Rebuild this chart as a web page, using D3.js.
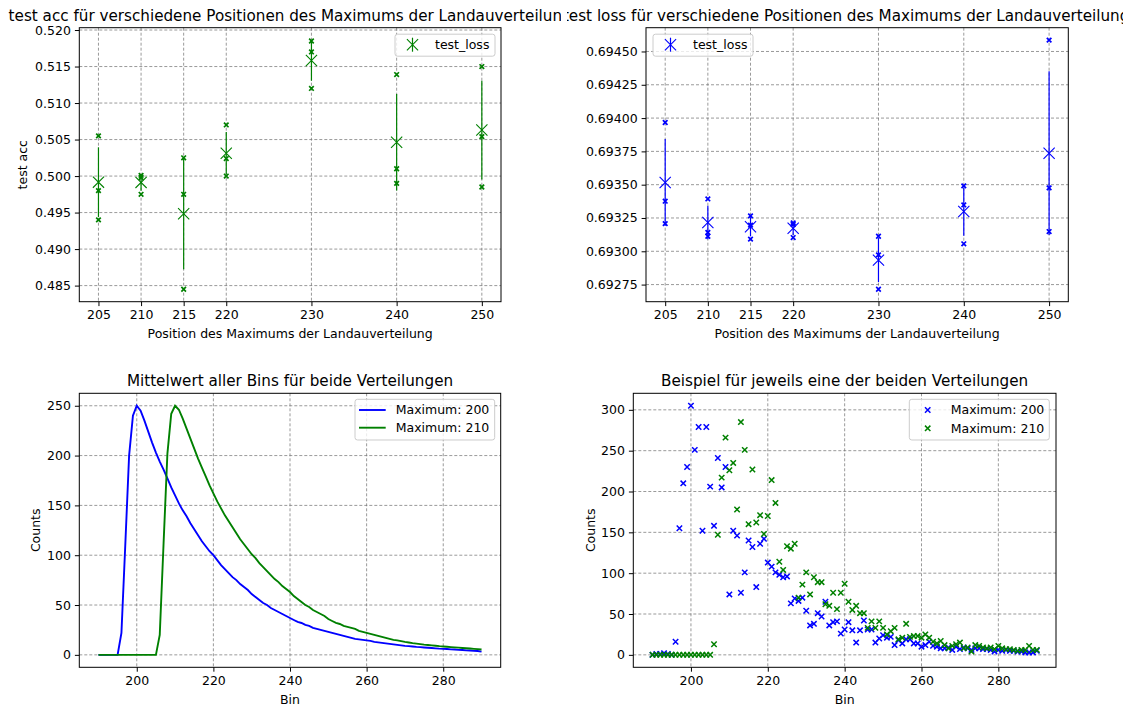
<!DOCTYPE html>
<html lang="de">
<head>
<meta charset="utf-8">
<title>Landauverteilung: test acc / test loss</title>
<script src="https://cdn.jsdelivr.net/npm/d3@7"></script>
<style>
  body { margin: 0; background: #fff; }
  svg { font-family: "DejaVu Sans", sans-serif; }
  .axis line { stroke: black; stroke-width: 1; }
  .axis text { font-family: "DejaVu Sans", sans-serif; font-size: 12.5px; fill: black; }
  .grid line { stroke: #6f6f6f; stroke-width: 0.7; stroke-dasharray: 3,2; }
  .label { font-size: 12.5px; fill: black; }
  .title { font-size: 15.2px; fill: black; }
  .legend text { font-size: 12.5px; fill: black; }
</style>
</head>
<body>
<script>

// ---- data ----
var positions = [205, 210, 215, 220, 230, 240, 250];

// single runs per position (small x markers)
var accRuns = [
  [0.5055, 0.4980, 0.4940],
  [0.5001, 0.4998, 0.4975],
  [0.5025, 0.4975, 0.4845],
  [0.5070, 0.5024, 0.5000],
  [0.5185, 0.5170, 0.5120],
  [0.5139, 0.5010, 0.4990],
  [0.5150, 0.5054, 0.4985]
];
var lossRuns = [
  [0.693967, 0.693376, 0.693208],
  [0.693393, 0.693141, 0.693113],
  [0.693266, 0.693196, 0.693091],
  [0.693213, 0.693201, 0.693103],
  [0.693113, 0.692973, 0.692715],
  [0.693491, 0.693348, 0.693056],
  [0.694585, 0.693476, 0.693148]
];

var accTicks = [0.485, 0.490, 0.495, 0.500, 0.505, 0.510, 0.515, 0.520];
var lossTicks = [0.69275, 0.69300, 0.69325, 0.69350, 0.69375, 0.69400, 0.69425, 0.69450];

// bins 190 .. 290
var bins = d3.range(190, 291);
var binTicks = [200, 220, 240, 260, 280];
var meanTicks = [0, 50, 100, 150, 200, 250];
var sampleTicks = [0, 50, 100, 150, 200, 250, 300];

var meanBlue = [
  0, 0, 0, 0, 0, 0, 22, 110, 200, 240,
  250, 245, 235, 224, 213, 203, 194, 186, 177, 168,
  160, 152, 145, 139, 132, 126, 120, 114, 109, 104,
  100, 95, 90, 86, 82, 78, 75, 71, 68, 65,
  61, 58, 55, 52, 50, 47, 45, 43, 41, 39,
  37, 35, 33, 32, 30, 29, 27, 26, 25, 24,
  23, 22, 21, 20, 19, 18, 17, 16, 15.5, 15,
  14.5, 14, 13, 12.5, 12, 11.5, 11, 10.5, 10, 9.5,
  9, 8.7, 8.4, 8, 7.7, 7.4, 7.1, 6.8, 6.5, 6.2,
  6, 5.8, 5.5, 5.3, 5, 4.8, 4.5, 4.3, 4, 3.8,
  3.2
];
var meanGreen = [
  0, 0, 0, 0, 0, 0, 0, 0, 0, 0,
  0, 0, 0, 0, 0, 0, 20, 112, 202, 242,
  250, 246, 237, 227, 217, 207, 197, 188, 179, 170,
  162, 154, 147, 140, 134, 128, 122, 116, 111, 106,
  101, 97, 92, 88, 84, 80, 76, 73, 69, 66,
  63, 59, 56, 53, 50, 48, 45, 43, 41, 39,
  36, 34, 32, 31, 29, 28, 27, 26, 24, 23,
  22, 21, 20, 19, 18, 17, 16, 15, 14.5, 13.8,
  13, 12.4, 11.8, 11.3, 10.8, 10.3, 9.9, 9.5, 9.1, 8.7,
  8.4, 8.1, 7.8, 7.5, 7.2, 6.9, 6.6, 6.3, 6, 5.7,
  5.3
];
var sampleBlue = [
  0, 1, 1, 2, 1, 0, 16, 155, 210, 230,
  305, 251, 279, 152, 279, 206, 158, 241, 205, 230,
  74, 152, 146, 76, 101, 140, 132, 83, 136, 142,
  113, 108, 101, 98, 95, 96, 63, 69, 66, 70,
  54, 36, 38, 51, 47, 65, 36, 40, 41, 26,
  31, 40, 30, 15, 30, 42, 31, 31, 15, 20,
  24, 21, 22, 12, 18, 14, 19, 19, 14, 14,
  10, 12, 16, 11, 10, 8, 8, 9, 6, 10,
  7, 9, 8, 6, 8, 8, 7, 7, 6, 4,
  6, 5, 6, 5, 5, 4, 4, 3, 3, 3,
  5
];
var sampleGreen = [
  0, 0, 0, 0, 0, 0, 0, 0, 0, 0,
  0, 0, 0, 0, 0, 0, 13, 147, 217, 266,
  226, 235, 178, 285, 251, 160, 227, 162, 171, 148,
  170, 214, 186, 114, 104, 133, 130, 136, 70, 86,
  101, 74, 95, 89, 89, 62, 60, 76, 56, 76,
  87, 65, 55, 60, 51, 51, 33, 41, 33, 41,
  33, 25, 29, 33, 19, 21, 38, 22, 23, 23,
  21, 25, 21, 16, 14, 17, 12, 8, 11, 13,
  15, 8, 9, 4, 12, 11, 9, 8, 9, 7,
  11, 8, 7, 7, 6, 5, 6, 6, 11, 6,
  6
];

// ---- layout ----
var W = 1129, H = 706;
var boxTL = {x: 79.3, y: 27.7, w: 421.7, h: 274},
    boxTR = {x: 646, y: 27.7, w: 422.3, h: 274},
    boxBL = {x: 79.3, y: 393.3, w: 421.4, h: 274},
    boxBR = {x: 633.3, y: 393.3, w: 422.7, h: 274};

var svg = d3.select("body").append("svg")
  .attr("width", W).attr("height", H);

// clip regions so the two long top titles cut off like the original
var defs = svg.append("defs");
defs.append("clipPath").attr("id", "clipLeft")
  .append("rect").attr("x", 0).attr("y", 0).attr("width", 561).attr("height", H);
defs.append("clipPath").attr("id", "clipRight")
  .append("rect").attr("x", 567).attr("y", 0).attr("width", 1123 - 567).attr("height", H);

function pad(ext) {
  var d = (ext[1] - ext[0]) * 0.05;
  return [ext[0] - d, ext[1] + d];
}

function xMarker(r) {
  return "M" + (-r) + "," + (-r) + "L" + r + "," + r + "M" + (-r) + "," + r + "L" + r + "," + (-r);
}

function stats(runs) {
  return runs.map(function(r, i) {
    var m = d3.mean(r);
    var s = Math.sqrt(d3.mean(r, function(v) { return (v - m) * (v - m); }));
    return {x: positions[i], mean: m, std: s, runs: r};
  });
}

function makePanel(box, xs, ys, xTicks, yTicks, yFmt) {
  var g = svg.append("g").attr("transform", "translate(" + box.x + "," + box.y + ")");
  var grid = g.append("g").attr("class", "grid");
  grid.selectAll("line.gx").data(xTicks).enter().append("line")
    .attr("x1", function(d) { return xs(d); }).attr("x2", function(d) { return xs(d); })
    .attr("y1", 0).attr("y2", box.h);
  grid.selectAll("line.gy").data(yTicks).enter().append("line")
    .attr("y1", function(d) { return ys(d); }).attr("y2", function(d) { return ys(d); })
    .attr("x1", 0).attr("x2", box.w);

  var xAxis = d3.axisBottom(xs).tickValues(xTicks).tickSize(4.4).tickPadding(4).tickSizeOuter(0);
  var yAxis = d3.axisLeft(ys).tickValues(yTicks).tickSize(4.4).tickPadding(4).tickSizeOuter(0)
    .tickFormat(yFmt);
  g.append("g").attr("class", "axis").attr("transform", "translate(0," + box.h + ")")
    .call(xAxis).select(".domain").remove();
  g.append("g").attr("class", "axis").call(yAxis).select(".domain").remove();
  return g;
}

function frame(g, box) {
  g.append("rect").attr("x", 0).attr("y", 0).attr("width", box.w).attr("height", box.h)
    .attr("fill", "none").attr("stroke", "black").attr("stroke-width", 1);
}

function title(cx, txt, clip, y) {
  svg.append("text").attr("class", "title")
    .attr("x", cx).attr("y", y)
    .attr("text-anchor", "middle")
    .attr("clip-path", clip ? "url(#" + clip + ")" : null)
    .text(txt);
}

function xlabel(box, txt) {
  svg.append("text").attr("class", "label")
    .attr("x", box.x + box.w / 2).attr("y", box.y + box.h + 36.5)
    .attr("text-anchor", "middle").text(txt);
}

function ylabel(box, txt, x) {
  svg.append("text").attr("class", "label")
    .attr("transform", "translate(" + x + "," + (box.y + box.h / 2) + ") rotate(-90)")
    .attr("text-anchor", "middle").text(txt);
}

function legendBox(g, x, y, w, h) {
  g.append("rect").attr("x", x).attr("y", y).attr("width", w).attr("height", h)
    .attr("rx", 2.5).attr("fill", "white").attr("fill-opacity", 0.8)
    .attr("stroke", "#cccccc").attr("stroke-width", 1);
}

// ---- top panels: error bars ----
var posTicks = positions;
var xPos = function(box) {
  return d3.scaleLinear().domain(pad(d3.extent(positions))).range([0, box.w]);
};

function errorPanel(box, runs, ticks, fmt, color, legendX) {
  var st = stats(runs);
  var lo = d3.min(st, function(d) { return Math.min(d3.min(d.runs), d.mean - d.std); });
  var hi = d3.max(st, function(d) { return Math.max(d3.max(d.runs), d.mean + d.std); });
  var xs = xPos(box);
  var ys = d3.scaleLinear().domain(pad([lo, hi])).range([box.h, 0]);
  var g = makePanel(box, xs, ys, posTicks, ticks, fmt);

  // error bars
  g.selectAll("line.err").data(st).enter().append("line")
    .attr("x1", function(d) { return xs(d.x); }).attr("x2", function(d) { return xs(d.x); })
    .attr("y1", function(d) { return ys(d.mean - d.std); })
    .attr("y2", function(d) { return ys(d.mean + d.std); })
    .attr("stroke", color).attr("stroke-width", 1.2);

  // single runs
  var pts = [];
  st.forEach(function(d) { d.runs.forEach(function(v) { pts.push([d.x, v]); }); });
  g.selectAll("path.run").data(pts).enter().append("path")
    .attr("transform", function(d) { return "translate(" + xs(d[0]) + "," + ys(d[1]) + ")"; })
    .attr("d", xMarker(2.3))
    .attr("fill", "none").attr("stroke", color).attr("stroke-width", 1.7);

  // means
  g.selectAll("path.mean").data(st).enter().append("path")
    .attr("transform", function(d) { return "translate(" + xs(d.x) + "," + ys(d.mean) + ")"; })
    .attr("d", xMarker(5.6))
    .attr("fill", "none").attr("stroke", color).attr("stroke-width", 1.1);

  frame(g, box);

  // legend
  var lg = g.append("g").attr("class", "legend");
  legendBox(lg, legendX, 6.5, 100, 22);
  var mx = legendX + 17.5, my = 17;
  lg.append("line").attr("x1", mx).attr("x2", mx).attr("y1", my - 7).attr("y2", my + 7)
    .attr("stroke", color).attr("stroke-width", 1.2);
  lg.append("path").attr("transform", "translate(" + mx + "," + my + ")")
    .attr("d", xMarker(5.6)).attr("fill", "none").attr("stroke", color).attr("stroke-width", 1.1);
  lg.append("text").attr("x", legendX + 40).attr("y", my + 4.5).text("test_loss");
}

errorPanel(boxTL, accRuns, accTicks, d3.format(".3f"), "green", boxTL.w - 106);
errorPanel(boxTR, lossRuns, lossTicks, d3.format(".5f"), "blue", 7);

title(boxTL.x + boxTL.w / 2, "test acc für verschiedene Positionen des Maximums der Landauverteilung", "clipLeft", 20.5);
title(boxTR.x + boxTR.w / 2 - 11, "test loss für verschiedene Positionen des Maximums der Landauverteilung", "clipRight", 20.5);
xlabel(boxTL, "Position des Maximums der Landauverteilung");
xlabel(boxTR, "Position des Maximums der Landauverteilung");
ylabel(boxTL, "test acc", 26.5);

// ---- bottom left: mean curves ----
(function() {
  var box = boxBL;
  var xs = d3.scaleLinear().domain(pad(d3.extent(bins))).range([0, box.w]);
  var ys = d3.scaleLinear().domain(pad([0, d3.max(meanBlue.concat(meanGreen))])).range([box.h, 0]);
  var g = makePanel(box, xs, ys, binTicks, meanTicks, d3.format("d"));
  var line = d3.line()
    .x(function(d, i) { return xs(bins[i]); })
    .y(function(d) { return ys(d); });
  g.append("path").datum(meanBlue).attr("d", line)
    .attr("fill", "none").attr("stroke", "blue").attr("stroke-width", 1.9);
  g.append("path").datum(meanGreen).attr("d", line)
    .attr("fill", "none").attr("stroke", "green").attr("stroke-width", 1.9);
  frame(g, box);

  var lg = g.append("g").attr("class", "legend");
  var lx = box.w - 145.7;
  legendBox(lg, lx, 6, 139.7, 40.7);
  [["blue", "Maximum: 200"], ["green", "Maximum: 210"]].forEach(function(d, i) {
    var yy = 16.7 + i * 17.7;
    lg.append("line").attr("x1", lx + 4).attr("x2", lx + 30.7).attr("y1", yy).attr("y2", yy)
      .attr("stroke", d[0]).attr("stroke-width", 1.9);
    lg.append("text").attr("x", lx + 40.7).attr("y", yy + 4.5).text(d[1]);
  });
})();
title(boxBL.x + boxBL.w / 2, "Mittelwert aller Bins für beide Verteilungen", null, 386);
xlabel(boxBL, "Bin");
ylabel(boxBL, "Counts", 39.5);

// ---- bottom right: one example each ----
(function() {
  var box = boxBR;
  var xs = d3.scaleLinear().domain(pad(d3.extent(bins))).range([0, box.w]);
  var ys = d3.scaleLinear().domain(pad([0, d3.max(sampleBlue.concat(sampleGreen))])).range([box.h, 0]);
  var g = makePanel(box, xs, ys, binTicks, sampleTicks, d3.format("d"));
  [[sampleBlue, "blue"], [sampleGreen, "green"]].forEach(function(s) {
    g.append("g").selectAll("path").data(s[0]).enter().append("path")
      .attr("transform", function(d, i) { return "translate(" + xs(bins[i]) + "," + ys(d) + ")"; })
      .attr("d", xMarker(2.7))
      .attr("fill", "none").attr("stroke", s[1]).attr("stroke-width", 1.5);
  });
  frame(g, box);

  var lg = g.append("g").attr("class", "legend");
  var lx = box.w - 146.7;
  legendBox(lg, lx, 6, 140, 40.7);
  [["blue", "Maximum: 200"], ["green", "Maximum: 210"]].forEach(function(d, i) {
    var yy = 16.7 + i * 18.3;
    lg.append("path").attr("transform", "translate(" + (lx + 18.4) + "," + yy + ")")
      .attr("d", xMarker(2.7)).attr("fill", "none").attr("stroke", d[0]).attr("stroke-width", 1.5);
    lg.append("text").attr("x", lx + 41.4).attr("y", yy + 4.5).text(d[1]);
  });
})();
title(boxBR.x + boxBR.w / 2, "Beispiel für jeweils eine der beiden Verteilungen", null, 386);
xlabel(boxBR, "Bin");
ylabel(boxBR, "Counts", 594.5);

</script>
</body>
</html>
